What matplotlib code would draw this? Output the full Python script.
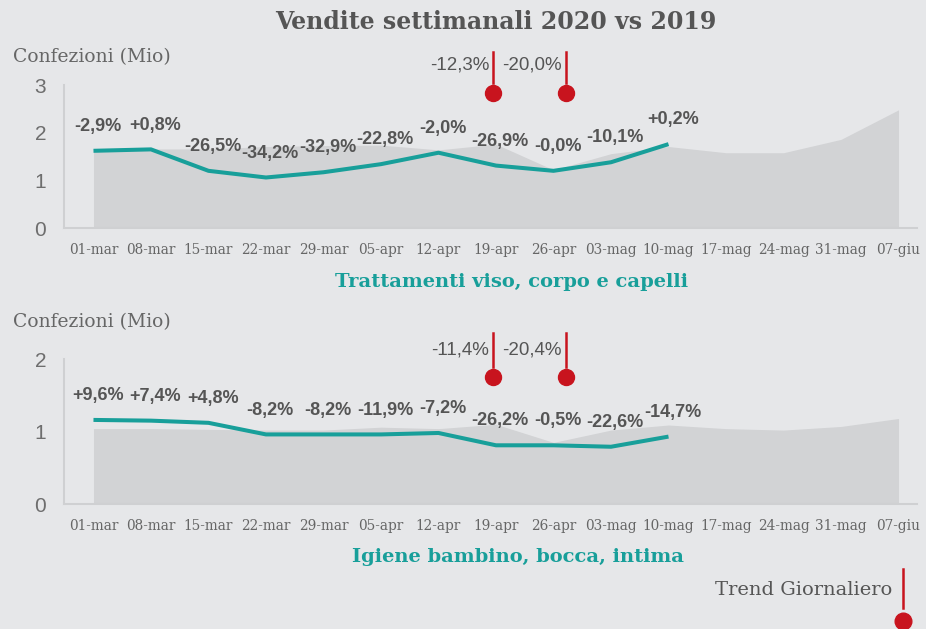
import matplotlib
matplotlib.use('Agg')
import matplotlib.pyplot as plt
from matplotlib.lines import Line2D

# Weeks on the x axis
weeks = ['01-mar', '08-mar', '15-mar', '22-mar', '29-mar', '05-apr', '12-apr',
         '19-apr', '26-apr', '03-mag', '10-mag', '17-mag', '24-mag', '31-mag',
         '07-giu']

# Trattamenti viso, corpo e capelli (Mio confezioni)
viso_2019 = [1.60, 1.66, 1.66, 1.71, 1.73, 1.74, 1.64, 1.76, 1.22, 1.56, 1.71,
             1.58, 1.58, 1.86, 2.48]
viso_2020 = [1.62, 1.65, 1.20, 1.06, 1.17, 1.34, 1.58, 1.31, 1.20, 1.38, 1.76]
viso_var = ['-2,9%', '+0,8%', '-26,5%', '-34,2%', '-32,9%', '-22,8%', '-2,0%',
            '-26,9%', '-0,0%', '-10,1%', '+0,2%']
viso_trend = ['-12,3%', '-20,0%']

# Igiene bambino, bocca, intima (Mio confezioni)
igiene_2019 = [1.04, 1.04, 1.03, 1.02, 1.02, 1.06, 1.04, 1.10, 0.85, 1.02, 1.09,
               1.04, 1.02, 1.07, 1.18]
igiene_2020 = [1.16, 1.15, 1.12, 0.96, 0.96, 0.96, 0.98, 0.81, 0.81, 0.79, 0.93]
igiene_var = ['+9,6%', '+7,4%', '+4,8%', '-8,2%', '-8,2%', '-11,9%', '-7,2%',
              '-26,2%', '-0,5%', '-22,6%', '-14,7%']
igiene_trend = ['-11,4%', '-20,4%']

# daily trend markers (in week units)
trend_x = [6.94, 8.21]

BG = '#e6e7e9'
AREA = '#d2d3d5'
TEAL = '#189f9a'
RED = '#c8141e'
GREY = '#555555'
SERIF = 'DejaVu Serif'
SANS = 'Liberation Sans'

fig = plt.figure(figsize=(9.26, 6.29), dpi=100, facecolor=BG)


def draw_panel(ax, v2019, v2020, labels, trend, ymax, trend_y, subtitle, sub_x, sub_y):
    x19 = list(range(len(v2019)))
    x20 = list(range(len(v2020)))
    ax.set_facecolor(BG)
    ax.fill_between(x19, 0, v2019, color=AREA, lw=0, zorder=1)
    ax.plot(x20, v2020, color=TEAL, lw=2.9, zorder=3, solid_capstyle='butt')

    # weekly variation labels
    for xi, yi, txt in zip(x20, v2020, labels):
        ax.annotate(txt, (xi, yi), xytext=(3, 17.5), textcoords='offset points',
                    ha='center', va='center', fontsize=13, fontweight='bold',
                    family=SANS, color=GREY, zorder=4)

    ax.set_xlim(-0.508, 14.33)
    ax.set_ylim(0, ymax)
    ax.set_yticks(range(ymax + 1))
    ax.set_xticks(x19)
    ax.set_xticklabels(weeks, family=SERIF, fontsize=9.8, color='#666666')
    for t in ax.get_yticklabels():
        t.set_family(SANS)
        t.set_fontsize(15)
        t.set_color('#6e6e6e')
    ax.tick_params(axis='both', length=0)
    ax.tick_params(axis='y', pad=13)
    ax.tick_params(axis='x', pad=11)
    for s in ['top', 'right']:
        ax.spines[s].set_visible(False)
    for s in ['left', 'bottom']:
        ax.spines[s].set_color('#cfd0d2')
        ax.spines[s].set_linewidth(1.5)

    # daily trend markers above the chart
    y_top, y_bot, y_dot, y_txt = trend_y
    for xi, txt in zip(trend_x, trend):
        ax.plot([xi, xi], [y_bot, y_top], color=RED, lw=1.8, clip_on=False, zorder=5)
        ax.plot([xi], [y_dot], 'o', color=RED, ms=11.5, clip_on=False, zorder=5)
        ax.annotate(txt, (xi, y_txt), xytext=(-2.5, 0), textcoords='offset points',
                    ha='right', va='center', fontsize=13.5, family=SANS,
                    color=GREY, annotation_clip=False)

    fig.text(sub_x, sub_y, subtitle, ha='center', va='center', fontsize=14,
             fontweight='bold', family=SERIF, color=TEAL)


ax1 = fig.add_axes([0.0694, 0.6375, 0.9214, 0.2273])
draw_panel(ax1, viso_2019, viso_2020, viso_var, viso_trend, 3,
           (3.69, 3.04, 2.83, 3.42), 'Trattamenti viso, corpo e capelli',
           0.5524, 0.552)

ax2 = fig.add_axes([0.0694, 0.1987, 0.9214, 0.2305])
draw_panel(ax2, igiene_2019, igiene_2020, igiene_var, igiene_trend, 2,
           (2.36, 1.89, 1.75, 2.12), 'Igiene bambino, bocca, intima',
           0.559, 0.115)

# titles
fig.text(0.535, 0.965, 'Vendite settimanali 2020 vs 2019', ha='center',
         va='center', fontsize=17, fontweight='bold', family=SERIF, color=GREY)
fig.text(0.014, 0.909, 'Confezioni (Mio)', ha='left', va='center', fontsize=13.5,
         family=SERIF, color='#666666')
fig.text(0.014, 0.488, 'Confezioni (Mio)', ha='left', va='center', fontsize=13.5,
         family=SERIF, color='#666666')

# legend: Trend Giornaliero
fig.text(0.964, 0.062, 'Trend Giornaliero', ha='right', va='center',
         fontsize=14, family=SERIF, color=GREY)
fig.add_artist(Line2D([0.975, 0.975], [0.0334, 0.0954], color=RED, lw=1.8,
                      transform=fig.transFigure))
fig.add_artist(Line2D([0.975], [0.0127], marker='o', color=RED, ms=12,
                      transform=fig.transFigure))

fig.savefig('out.png', dpi=100, facecolor=BG)
